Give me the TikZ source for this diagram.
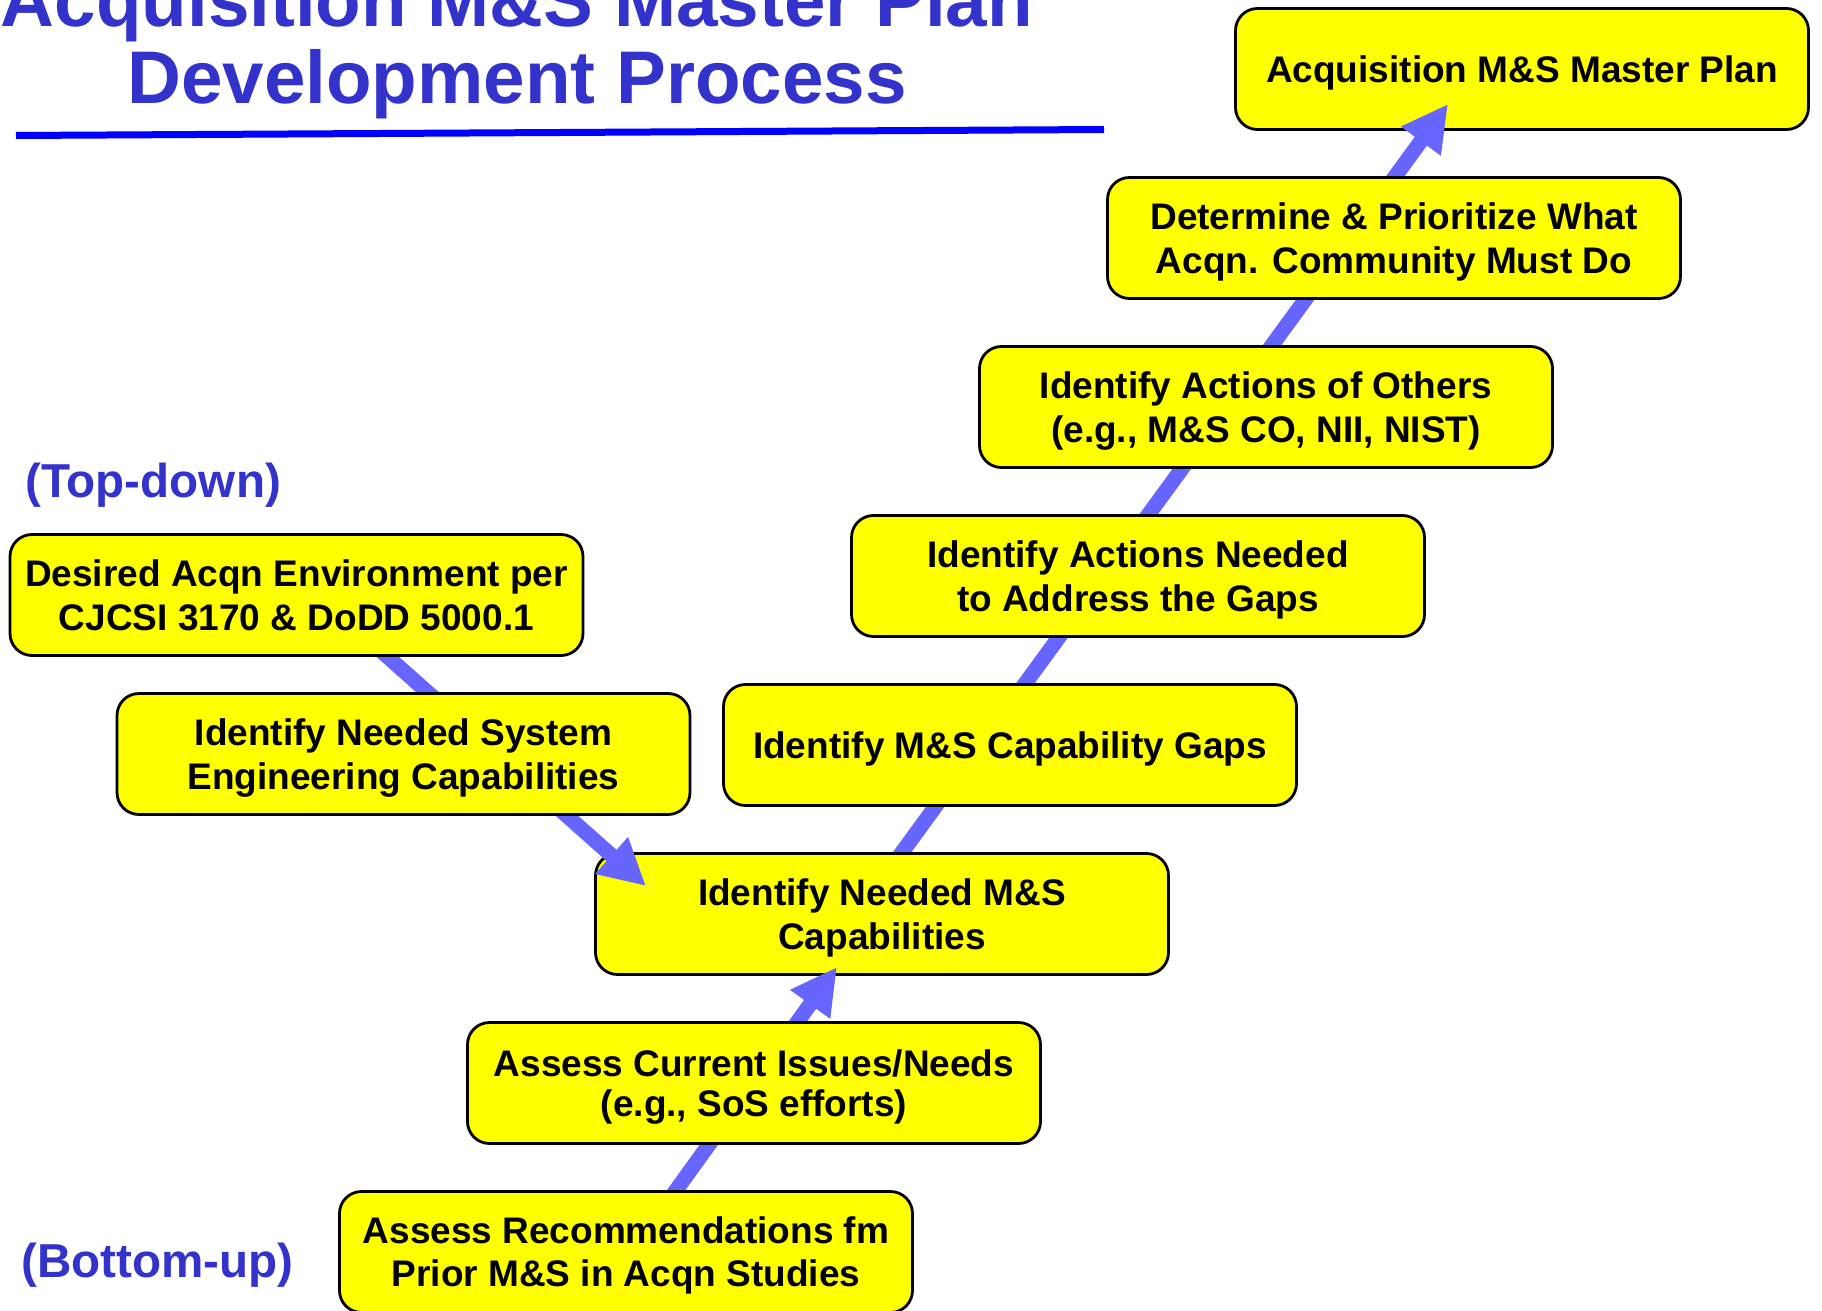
\documentclass[tikz,border=0pt]{standalone}
\usepackage{fontspec}
\setmainfont{Liberation Sans}
\usetikzlibrary{arrows.meta,calc}
\definecolor{titleblue}{HTML}{3333CC}
\definecolor{lineblue}{HTML}{0000FF}
\definecolor{arrowblue}{HTML}{6666FF}
\definecolor{boxyellow}{HTML}{FFFF00}
\pgfdeclarelayer{lzero}
\pgfdeclarelayer{lone}
\pgfdeclarelayer{ltwo}
\pgfdeclarelayer{lthree}
\pgfsetlayers{lzero,lone,ltwo,lthree,main}
\tikzset{
  stepbox/.style={draw=black, line width=1.4pt, fill=boxyellow, rounded corners=11pt,
    minimum width=286.5pt, minimum height=60.5pt, inner sep=0pt, align=center,
    text depth=0pt, font=\bfseries\fontsize{18.5}{22.3}\selectfont},
  flow/.style={draw=arrowblue, line width=7.5pt, -{Triangle[length=23pt,width=23pt]}},
  titletext/.style={text=titleblue, font=\bfseries\fontsize{37.3}{44}\selectfont, inner sep=0pt, anchor=base},
  sidelabel/.style={text=titleblue, font=\bfseries\fontsize{23.8}{28}\selectfont, inner sep=0pt, anchor=base west}
}
\begin{document}
\begin{tikzpicture}[x=0.5pt,y=-0.5pt]
\useasboundingbox (0,0) rectangle (1822,1311);
% title
\node[titletext] (t1) at (517,27) {Acquisition M\&S Master Plan};
\node[titletext] (t2) at (517,104) {Development Process};
\coordinate (ulA) at (16,135.5);
\coordinate (ulB) at (1104,129.5);
\draw[lineblue, line width=3.5pt] (ulA) -- (ulB);
% side labels
\node[sidelabel] (td) at (25,497) {(Top-down)};
\node[sidelabel] (bu) at (21,1277) {(Bottom-up)};
% boxes
\begin{pgfonlayer}{lzero}
\node[stepbox] (b1) at (1522,69) {Acquisition M\&S Master Plan};
\end{pgfonlayer}
\begin{pgfonlayer}{ltwo}
\node[stepbox] (b6) at (882,914) {Identify Needed M\&S\\Capabilities};
\end{pgfonlayer}
\node[stepbox] (b2) at (1394,238) {Determine \& Prioritize What\\Acqn. Community Must Do};
\node[stepbox] (b3) at (1266,407) {Identify Actions of Others\\(e.g., M\&S CO, NII, NIST)};
\node[stepbox] (b4) at (1138,576) {Identify Actions Needed\\to Address the Gaps};
\node[stepbox] (b5) at (1010,745) {Identify M\&S Capability Gaps};
\node[stepbox, font=\bfseries\fontsize{18.5}{20}\selectfont] (b7) at (754,1083) {Assess Current Issues/Needs\\(e.g., SoS efforts)};
\node[stepbox, font=\bfseries\fontsize{18.5}{21.5}\selectfont] (b8) at (626,1252) {Assess Recommendations fm\\Prior M\&S in Acqn Studies};
\node[stepbox] (b9) at (296.5,595) {Desired Acqn Environment per\\CJCSI 3170 \& DoDD 5000.1};
\node[stepbox] (b10) at (403.5,754) {Identify Needed System\\Engineering Capabilities};
% connectors
\begin{pgfonlayer}{lone}
\draw[flow] ($(b6.center)+(-25,0)$) -- ($(b1.center)+(-74,35)$);
\end{pgfonlayer}
\begin{pgfonlayer}{lthree}
\draw[flow] ($(b9.center)+(21.5,0)$) -- ($(b6.center)+(-236,-28)$);
\draw[flow] ($(b8.center)+(5.5,0)$) -- ($(b6.center)+(-45,53)$);
\end{pgfonlayer}
\end{tikzpicture}
\end{document}
